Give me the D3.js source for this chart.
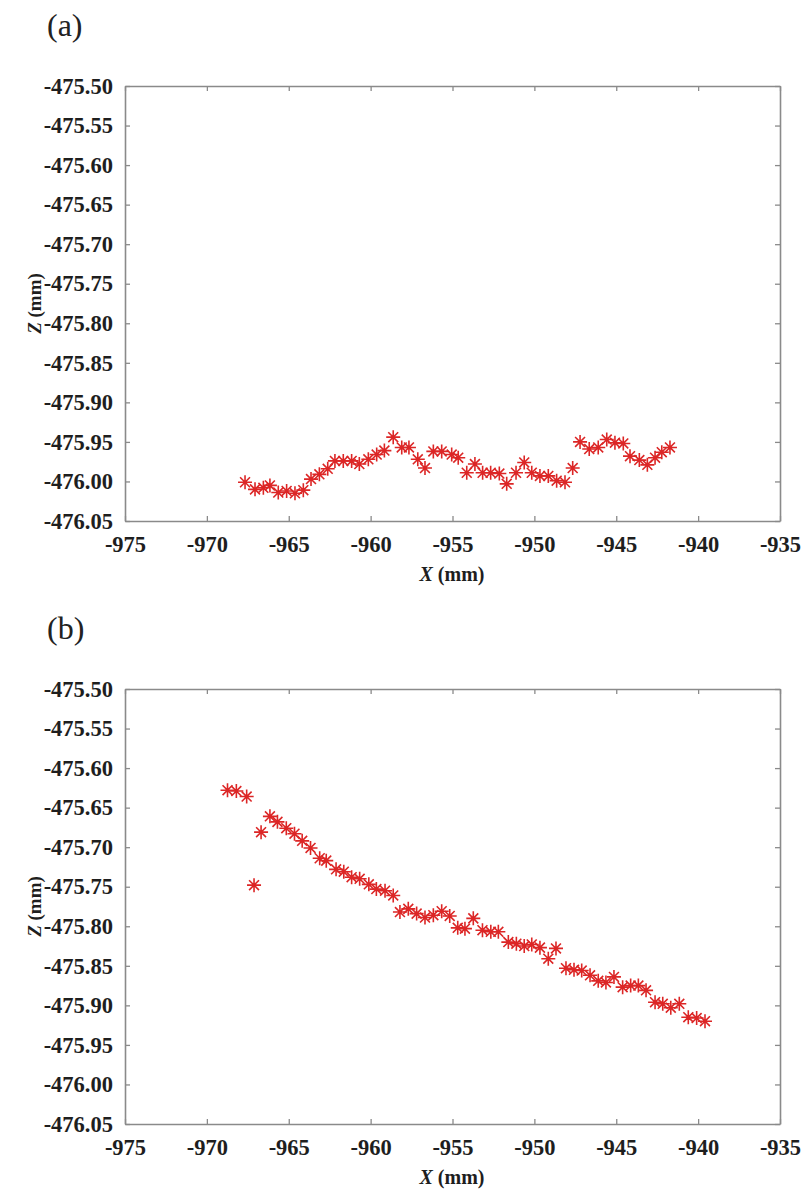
<!DOCTYPE html>
<html lang="en">
<head>
<meta charset="UTF-8">
<title>Z vs X profiles</title>
<script src="https://cdn.jsdelivr.net/npm/d3@7"></script>
<style>
  body { margin: 0; background: #fff; }
  svg text { font-family: "Liberation Serif", "Times New Roman", serif; }
</style>
</head>
<body>
<div id="chart"></div>
<script>
// tick labels shared by both panels
const xTicks = [-975, -970, -965, -960, -955, -950, -945, -940, -935];
const zTicks = [-475.50, -475.55, -475.60, -475.65, -475.70, -475.75, -475.80,
                -475.85, -475.90, -475.95, -476.00, -476.05];

// panel (a) measured points
const xA = [-967.67, -967.06, -966.55, -966.15, -965.64, -965.13, -964.62, -964.11, -963.64, -963.13,
            -962.62, -962.18, -961.67, -961.16, -960.69, -960.14, -959.63, -959.16, -958.62, -958.10,
            -957.66, -957.12, -956.68, -956.17, -955.66, -955.05, -954.65, -954.13, -953.63, -953.16,
            -952.67, -952.14, -951.69, -951.12, -950.62, -950.16, -949.66, -949.15, -948.64, -948.13,
            -947.66, -947.21, -946.65, -946.10, -945.58, -945.08, -944.57, -944.16, -943.59, -943.10,
            -942.63, -942.22, -941.72];
const zA = [-476.001, -476.010, -476.008, -476.005, -476.014, -476.012, -476.015, -476.011, -475.997, -475.991,
            -475.984, -475.974, -475.974, -475.974, -475.978, -475.972, -475.966, -475.961, -475.944, -475.957,
            -475.957, -475.972, -475.983, -475.962, -475.962, -475.966, -475.970, -475.989, -475.978, -475.989,
            -475.989, -475.990, -476.003, -475.989, -475.976, -475.989, -475.993, -475.993, -475.999, -476.001,
            -475.983, -475.950, -475.959, -475.957, -475.947, -475.951, -475.952, -475.968, -475.973, -475.979,
            -475.970, -475.963, -475.957];

// panel (b) measured points
const xB = [-968.74, -968.20, -967.57, -967.12, -966.69, -966.15, -965.69, -965.15, -964.65, -964.18,
            -963.67, -963.11, -962.71, -962.11, -961.64, -961.16, -960.67, -960.11, -959.65, -959.12,
            -958.62, -958.21, -957.70, -957.19, -956.68, -956.17, -955.66, -955.17, -954.68, -954.24,
            -953.73, -953.17, -952.66, -952.20, -951.59, -951.10, -950.62, -950.16, -949.66, -949.15,
            -948.68, -948.07, -947.58, -947.11, -946.60, -946.10, -945.63, -945.14, -944.61, -944.12,
            -943.65, -943.18, -942.63, -942.16, -941.67, -941.15, -940.60, -940.09, -939.58];
const zB = [-475.628, -475.629, -475.636, -475.748, -475.681, -475.661, -475.668, -475.676, -475.683, -475.692,
            -475.701, -475.714, -475.717, -475.728, -475.731, -475.738, -475.740, -475.747, -475.753, -475.755,
            -475.761, -475.782, -475.778, -475.784, -475.789, -475.786, -475.781, -475.787, -475.802, -475.803,
            -475.790, -475.805, -475.807, -475.807, -475.820, -475.822, -475.825, -475.823, -475.827, -475.841,
            -475.828, -475.853, -475.855, -475.856, -475.862, -475.869, -475.871, -475.864, -475.877, -475.875,
            -475.875, -475.881, -475.896, -475.898, -475.903, -475.898, -475.915, -475.916, -475.920];

const W = 803, H = 1193;
const left = 125, right = 780, plotH = 435;

const svg = d3.select("#chart").append("svg")
  .attr("width", W)
  .attr("height", H);

// 8-spoke asterisk marker
function star(r) {
  let p = "";
  for (let i = 0; i < 4; i++) {
    const a = i * Math.PI / 4;
    const dx = r * Math.cos(a), dy = r * Math.sin(a);
    p += `M${-dx},${-dy}L${dx},${dy}`;
  }
  return p;
}

function drawPanel(top, letter, xs, zs) {
  const x = d3.scaleLinear().domain([-975, -935]).range([left, right]);
  const y = d3.scaleLinear().domain([-475.50, -476.05]).range([top, top + plotH]);

  const g = svg.append("g");

  // letter label
  g.append("text")
    .attr("x", 47)
    .attr("y", top - 50)
    .attr("font-size", 32)
    .attr("fill", "#222")
    .text("(" + letter + ")");

  // axes (ticks pointing inward on all four sides)
  const bottom = g.append("g")
    .attr("transform", `translate(0,${top + plotH})`)
    .call(d3.axisBottom(x).tickValues(xTicks).tickSizeInner(-5).tickSizeOuter(0)
      .tickPadding(15).tickFormat(d => d.toString()));
  const leftAx = g.append("g")
    .attr("transform", `translate(${left},0)`)
    .call(d3.axisLeft(y).tickValues(zTicks).tickSizeInner(-5).tickSizeOuter(0)
      .tickPadding(12).tickFormat(d => d.toFixed(2)));
  const topAx = g.append("g")
    .attr("transform", `translate(0,${top})`)
    .call(d3.axisTop(x).tickValues(xTicks).tickSizeInner(-5).tickSizeOuter(0).tickFormat(""));
  const rightAx = g.append("g")
    .attr("transform", `translate(${right},0)`)
    .call(d3.axisRight(y).tickValues(zTicks).tickSizeInner(-5).tickSizeOuter(0).tickFormat(""));

  [bottom, leftAx, topAx, rightAx].forEach(a => {
    a.selectAll("path.domain").attr("stroke", "#8a8a8a").attr("stroke-width", 1.6);
    a.selectAll(".tick line").attr("stroke", "#8a8a8a").attr("stroke-width", 1.3);
    a.selectAll(".tick text")
      .attr("font-family", "Liberation Serif, serif")
      .attr("font-size", 22.5)
      .attr("font-weight", "bold")
      .attr("fill", "#1e1e1e");
  });

  // axis titles
  const xt = g.append("text")
    .attr("x", 452)
    .attr("y", top + plotH + 60)
    .attr("text-anchor", "middle")
    .attr("font-size", 20)
    .attr("font-weight", "bold")
    .attr("fill", "#1e1e1e");
  xt.append("tspan").attr("font-style", "italic").text("X");
  xt.append("tspan").text(" (mm)");

  const zt = g.append("text")
    .attr("transform", `translate(41,${top + plotH / 2}) rotate(-90)`)
    .attr("text-anchor", "middle")
    .attr("font-size", 19)
    .attr("font-weight", "bold")
    .attr("fill", "#1e1e1e");
  zt.append("tspan").attr("font-style", "italic").text("Z");
  zt.append("tspan").text(" (mm)");

  // data markers
  g.append("g")
    .selectAll("path")
    .data(xs.map((v, i) => [v, zs[i]]))
    .join("path")
    .attr("transform", d => `translate(${x(d[0])},${y(d[1])})`)
    .attr("d", star(7))
    .attr("fill", "none")
    .attr("stroke", "#dc2626")
    .attr("stroke-width", 1.6);
}

drawPanel(86, "a", xA, zA);
drawPanel(689, "b", xB, zB);
</script>
</body>
</html>
